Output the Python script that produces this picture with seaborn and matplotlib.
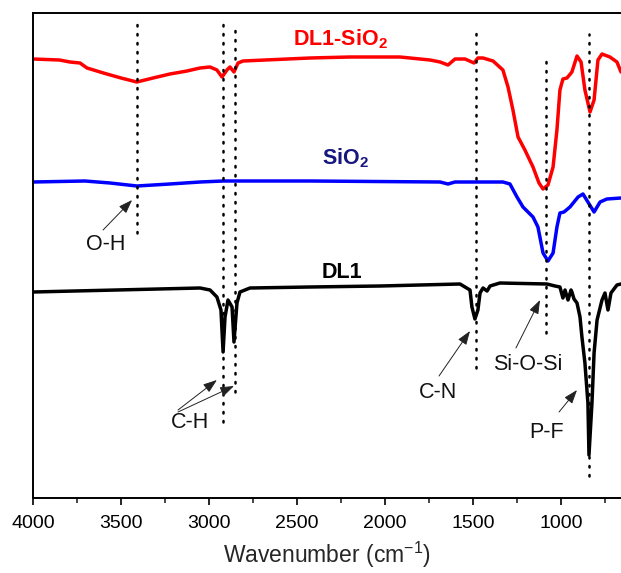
import matplotlib
matplotlib.use("Agg")
import matplotlib.pyplot as plt
from matplotlib.ticker import MultipleLocator
import seaborn as sns
import pandas as pd

# ---------------- data (wavenumber cm^-1, transmittance a.u., stacked) ----------------
red_wn = [4000, 3850, 3790, 3733, 3693, 3600, 3500, 3410, 3318, 3222, 3125, 3051, 2994, 2955,
          2926, 2898, 2881, 2858, 2835, 2807, 2426, 2200, 1915, 1801, 1744, 1687, 1642, 1602,
          1545, 1494, 1472, 1443, 1386, 1330, 1301, 1273, 1244, 1205, 1159, 1125, 1102, 1074,
          1045, 1023, 1006, 989, 966, 938, 909, 886, 864, 835, 812, 790, 767, 722, 682, 659]
red_t = [87.8, 87.6, 87.2, 87.0, 86.0, 85.0, 84.0, 83.2, 84.0, 84.8, 85.4, 86.0, 86.2, 85.6,
         84.2, 85.6, 86.2, 85.2, 87.0, 87.4, 88.0, 88.2, 88.2, 87.8, 87.6, 87.2, 86.6, 87.8,
         87.8, 87.0, 88.0, 88.0, 87.4, 85.6, 82.2, 77.6, 72.2, 69.6, 66.2, 63.0, 61.8, 62.6,
         66.2, 73.6, 81.6, 83.8, 84.0, 85.2, 88.4, 87.2, 81.6, 77.2, 79.6, 87.6, 88.8, 88.2, 87.2, 85.2]

blue_wn = [4000, 3705, 3562, 3410, 3222, 3051, 2920, 2426, 1687, 1642, 1602, 1330, 1290, 1250,
           1216, 1159, 1131, 1102, 1074, 1045, 1023, 1006, 983, 949, 903, 875, 847, 812, 778, 739, 659]
blue_t = [63.2, 63.4, 63.0, 62.4, 62.8, 63.2, 63.4, 63.4, 63.2, 62.8, 63.2, 63.2, 62.8, 60.2,
          58.2, 56.2, 54.2, 49.0, 47.4, 49.0, 54.2, 57.0, 57.2, 58.2, 60.2, 60.8, 59.2, 57.2, 59.2, 59.8, 60.0]

black_wn = [4000, 3051, 2994, 2955, 2932, 2920, 2909, 2892, 2869, 2858, 2841, 2824, 2767, 2426,
            2028, 1574, 1517, 1506, 1489, 1472, 1460, 1443, 1420, 1403, 1347, 1080, 1034, 1006,
            989, 977, 960, 943, 938, 926, 909, 892, 881, 864, 847, 841, 824, 812, 795, 767,
            750, 733, 716, 682, 659]
black_t = [41.2, 42.0, 41.6, 40.2, 37.6, 29.2, 36.2, 39.6, 38.2, 31.2, 39.0, 41.2, 42.0, 42.2,
           42.4, 42.8, 41.6, 38.2, 35.8, 37.6, 41.0, 42.0, 41.4, 42.4, 43.0, 42.8, 42.4, 42.2,
           40.0, 41.6, 39.6, 41.6, 41.2, 39.8, 39.0, 36.2, 32.2, 27.0, 19.0, 8.6, 19.0, 29.0, 35.6, 39.6,
           41.0, 37.6, 41.0, 42.6, 42.8]

# marker lines: wavenumber, lower, upper
mark_wn = [3410, 2920, 2855, 1483, 1085, 840]
mark_lo = [53.0, 15.2, 21.2, 26.0, 33.0, 4.4]
mark_hi = [94.8, 95.2, 94.0, 93.8, 87.8, 92.8]

# annotations: text, text position, arrow tail, arrow tip
ann_text = ["O-H", "C-H", "C-H", "C-N", "Si-O-Si", "P-F"]
ann_text_xy = [(3585, 50.6), (3108, 15.2), (3108, 15.2), (1699, 21.0), (1188, 26.6), (1080, 13.0)]
ann_tail_xy = [(3602, 53.6), (3176, 17.6), (3176, 17.2), (1693, 24.4), (1256, 30.0), (1011, 17.2)]
ann_tip_xy = [(3437, 59.6), (2955, 23.6), (2858, 22.4), (1517, 33.4), (1119, 39.6), (909, 21.6)]

series_names = ["DL1-SiO$_\\mathbf{2}$", "SiO$_\\mathbf{2}$", "DL1"]
series_colors = ["#ff0000", "#0000ff", "#000000"]
label_colors = ["#ff0000", "#16167f", "#000000"]
label_xy = [(2256, 90.6), (2222, 66.8), (2244, 44.0)]

# ---------------- styling ----------------
sns.set_theme(style="ticks")
plt.rcParams["font.family"] = ["Liberation Sans", "DejaVu Sans"]
plt.rcParams["mathtext.fontset"] = "custom"
plt.rcParams["mathtext.rm"] = "Liberation Sans"
plt.rcParams["mathtext.it"] = "Liberation Sans"
plt.rcParams["mathtext.bf"] = "Liberation Sans:bold"

fig = plt.figure(figsize=(6.21, 5.73), dpi=100)
ax = fig.add_axes([33 / 621, 1 - 498 / 573, 1 - 33 / 621, (498 - 13) / 573])

frames = [
    pd.DataFrame({"wn": red_wn, "t": red_t}),
    pd.DataFrame({"wn": blue_wn, "t": blue_t}),
    pd.DataFrame({"wn": black_wn, "t": black_t}),
]
for df, c in zip(frames, series_colors):
    sns.lineplot(data=df, x="wn", y="t", color=c, lw=2.5, ax=ax, estimator=None, sort=False)

for wn, lo, hi in zip(mark_wn, mark_lo, mark_hi):
    ax.plot([wn, wn], [lo, hi], color="black", lw=1.8, linestyle=(0, (0.6, 3.0)),
            dash_capstyle="round", zorder=3)

for txt, pos, c in zip(series_names, label_xy, label_colors):
    ax.text(pos[0], pos[1], txt, color=c, fontsize=15.5, fontweight="bold",
            ha="center", va="baseline")

drawn = set()
for txt, txy, tail, tip in zip(ann_text, ann_text_xy, ann_tail_xy, ann_tip_xy):
    if (txt, txy) not in drawn:
        ax.text(txy[0], txy[1], txt, fontsize=15.5, ha="center", va="center", color="#111111")
        drawn.add((txt, txy))
    ax.annotate("", xy=tip, xytext=tail,
                arrowprops=dict(arrowstyle="-|>,head_length=0.7,head_width=0.25",
                                color="#222222", lw=0.7, shrinkA=0, shrinkB=0))

ax.set_xlim(4000, 659)
ax.set_ylim(0, 97)
ax.xaxis.set_major_locator(MultipleLocator(500))
ax.xaxis.set_minor_locator(MultipleLocator(250))
ax.set_yticks([])
ax.set_ylabel("")
ax.set_xlabel("Wavenumber (cm$^{-1}$)", fontsize=16.5, labelpad=6)
ax.tick_params(axis="x", which="major", direction="out", length=5, width=1.2,
               labelsize=14, pad=7, top=False, colors="black")
ax.tick_params(axis="x", which="minor", direction="out", length=3.5, width=1.2, top=False)
for s in ["left", "top", "bottom"]:
    ax.spines[s].set_visible(True)
    ax.spines[s].set_linewidth(1.4)
    ax.spines[s].set_color("black")
ax.spines["right"].set_visible(False)

fig.savefig("out.png", dpi=100)
